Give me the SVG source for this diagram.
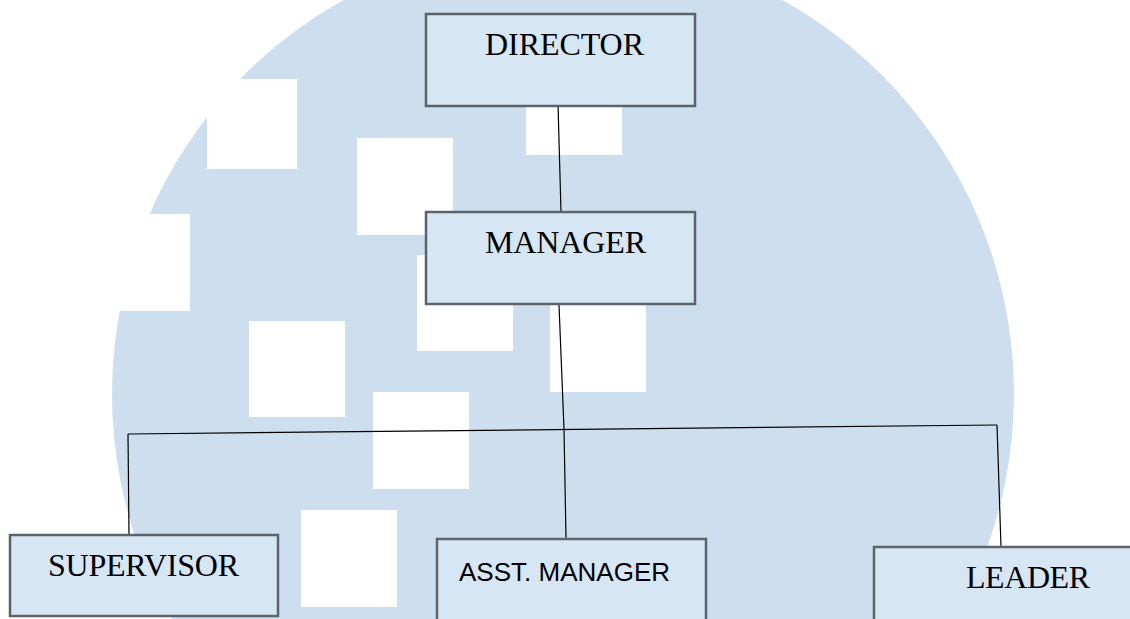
<svg xmlns="http://www.w3.org/2000/svg" width="1130" height="619" viewBox="0 0 1130 619">
  <style>
    .sq { fill: #ffffff; }
    .box { fill: #d6e6f5; stroke: #5c636b; stroke-width: 2.5; }
    .serif { font-family: "Liberation Serif", "Times New Roman", serif; font-size: 32px; fill: #000; }
    .sans { font-family: "Liberation Sans", Arial, sans-serif; font-size: 26px; fill: #000; }
    .conn { stroke: #000; stroke-width: 1.2; fill: none; }
  </style>
  <rect width="1130" height="619" fill="#ffffff"/>
  <g id="background">
    <circle cx="563" cy="394" r="451" fill="#cddfee"/>
    <rect class="sq" x="207" y="79" width="90" height="90"/>
    <rect class="sq" x="357" y="138" width="96" height="97"/>
    <rect class="sq" x="526" y="59" width="96" height="96"/>
    <rect class="sq" x="94" y="214" width="96" height="97"/>
    <rect class="sq" x="417" y="255" width="96" height="96"/>
    <rect class="sq" x="550" y="296" width="96" height="96"/>
    <rect class="sq" x="249" y="321" width="96" height="96"/>
    <rect class="sq" x="373" y="392" width="96" height="97"/>
    <rect class="sq" x="301" y="510" width="96" height="97"/>
  </g>
  <g id="connectors">
    <path class="conn" d="M558,104 L561,212"/>
    <path class="conn" d="M559,305 L564,429 L566,539"/>
    <path class="conn" d="M128,434 L997,425"/>
    <path class="conn" d="M128,434 L129,535"/>
    <path class="conn" d="M997,425 L1001,547"/>
  </g>
  <g id="director">
    <rect class="box" x="426" y="14" width="269" height="92"/>
    <text class="serif" x="485" y="55" textLength="159">DIRECTOR</text>
  </g>
  <g id="manager">
    <rect class="box" x="426" y="212" width="269" height="92"/>
    <text class="serif" x="485" y="253" textLength="161">MANAGER</text>
  </g>
  <g id="supervisor">
    <rect class="box" x="10" y="535" width="268" height="81"/>
    <text class="serif" x="48" y="576" textLength="191">SUPERVISOR</text>
  </g>
  <g id="asst-manager">
    <rect class="box" x="437" y="539" width="269" height="90"/>
    <text class="sans" x="459" y="581" textLength="211">ASST. MANAGER</text>
  </g>
  <g id="leader">
    <rect class="box" x="874" y="547" width="280" height="90"/>
    <text class="serif" x="966" y="588" textLength="124">LEADER</text>
  </g>
</svg>
